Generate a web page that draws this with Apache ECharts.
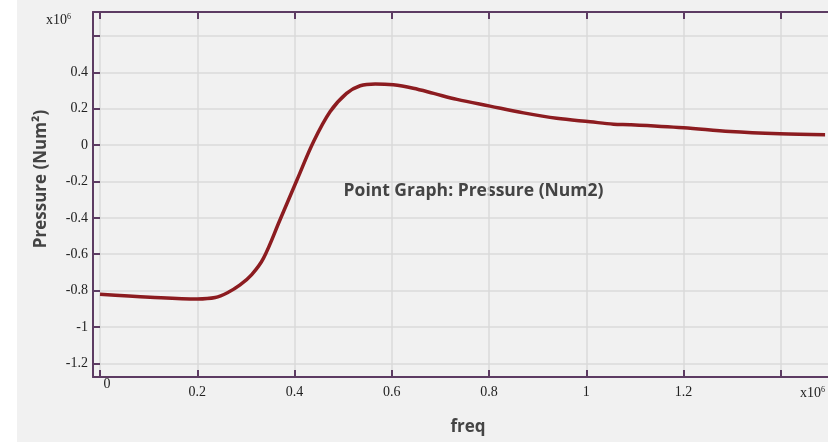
<!DOCTYPE html>
<html>
<head>
<meta charset="utf-8">
<script src="https://cdn.jsdelivr.net/npm/echarts@6/dist/echarts.min.js"></script>
<style>
  html, body { margin: 0; padding: 0; background: #ffffff; }
  #chart { position: absolute; left: 17px; top: 0; width: 811px; height: 442px; background: #f1f1f1; }
</style>
</head>
<body>
<div id="chart"></div>
<script>
// values in units of 1e6
var freq = [0, 0.103, 0.2, 0.237, 0.262, 0.288, 0.312, 0.336, 0.370, 0.405, 0.439, 0.473, 0.507,
  0.535, 0.566, 0.603, 0.644, 0.686, 0.734, 0.802, 0.871, 0.939, 1.008, 1.056, 1.090, 1.200,
  1.296, 1.398, 1.491];
var pressure = [-0.820, -0.836, -0.846, -0.838, -0.812, -0.769, -0.712, -0.623, -0.412, -0.192,
  0.018, 0.183, 0.284, 0.326, 0.336, 0.331, 0.312, 0.284, 0.251, 0.214, 0.177, 0.147, 0.128,
  0.115, 0.112, 0.095, 0.074, 0.062, 0.057];

var xTicks = [0, 0.2, 0.4, 0.6, 0.8, 1, 1.2, 1.4];
var xLabels = [0, 0.2, 0.4, 0.6, 0.8, 1, 1.2];
var yTicks = [-1.2, -1, -0.8, -0.6, -0.4, -0.2, 0, 0.2, 0.4, 0.6];
var yLabels = [-1.2, -1, -0.8, -0.6, -0.4, -0.2, 0, 0.2, 0.4];

var axisColor = '#5d3c63';
var textColor = '#444444';
var serif = '"Liberation Serif", "DejaVu Serif", serif';
var sans = '"Open Sans", "Noto Sans", sans-serif';

var data = [];
for (var i = 0; i < freq.length; i++) data.push([freq[i], pressure[i]]);

var chart = echarts.init(document.getElementById('chart'));
chart.setOption({
  backgroundColor: '#f1f1f1',
  animation: false,
  grid: { left: 76, right: 0, top: 12, bottom: 65 },
  xAxis: [{
    type: 'value',
    min: -0.0144,
    max: 1.497,
    axisLine: { show: true, onZero: false, lineStyle: { color: axisColor, width: 2 } },
    axisTick: { show: true, inside: true, length: 7, customValues: xTicks,
      lineStyle: { color: axisColor, width: 2 } },
    axisLabel: {
      customValues: xLabels,
      margin: 0,
      color: '#222',
      fontFamily: serif,
      fontSize: 14,
      formatter: function (v) { return v === 0 ? '{z|0}' : '{n|' + v + '}'; },
      rich: {
        n: { lineHeight: 30, fontFamily: serif, fontSize: 14, color: '#222' },
        z: { lineHeight: 14, padding: [0, 0, 0, 14], fontFamily: serif, fontSize: 14, color: '#222' }
      }
    },
    splitLine: { show: true, lineStyle: { color: '#dadada', width: 1.5 } }
  }, {
    type: 'value',
    position: 'top',
    min: -0.0144,
    max: 1.497,
    axisLine: { show: true, onZero: false, lineStyle: { color: axisColor, width: 2 } },
    axisTick: { show: true, inside: true, length: 7, customValues: xTicks,
      lineStyle: { color: axisColor, width: 2 } },
    axisLabel: { show: false },
    splitLine: { show: false }
  }],
  yAxis: {
    type: 'value',
    min: -1.275,
    max: 0.7315,
    axisLine: { show: true, onZero: false, lineStyle: { color: axisColor, width: 2 } },
    axisTick: { show: true, inside: true, length: 7, customValues: yTicks,
      lineStyle: { color: axisColor, width: 2 } },
    axisLabel: { customValues: yLabels, margin: 5, color: '#222', fontFamily: serif, fontSize: 14 },
    splitLine: { show: true, lineStyle: { color: '#dadada', width: 1.5 } }
  },
  graphic: [
    { type: 'text', x: 473.5 - 17, y: 191,
      style: { text: 'Point Graph: Pressure (Num2)', font: 'bold 17.5px ' + sans, fill: textColor,
        align: 'center', verticalAlign: 'middle' } },
    { type: 'text', x: 41 - 17, y: 179, rotation: Math.PI / 2,
      style: { text: 'Pressure (Num\u00b2)', font: 'bold 17px ' + sans, fill: textColor,
        align: 'center', verticalAlign: 'middle' } },
    { type: 'text', x: 468 - 17, y: 427,
      style: { text: 'freq', font: 'bold 17px ' + sans, fill: textColor,
        align: 'center', verticalAlign: 'middle' } },
    { type: 'text', x: 46 - 17, y: 12,
      style: { text: '{a|x10}{s|6}', rich: {
        a: { fontFamily: serif, fontSize: 14, fill: '#222', lineHeight: 16 },
        s: { fontFamily: serif, fontSize: 8, fill: '#222', padding: [0, 0, 7, 0], lineHeight: 16 } } } },
    { type: 'text', x: 800 - 17, y: 385,
      style: { text: '{a|x10}{s|6}', rich: {
        a: { fontFamily: serif, fontSize: 14, fill: '#222', lineHeight: 16 },
        s: { fontFamily: serif, fontSize: 8, fill: '#222', padding: [0, 0, 7, 0], lineHeight: 16 } } } }
  ],
  series: [{
    type: 'line',
    xAxisIndex: 0,
    data: data,
    smooth: 0.35,
    showSymbol: false,
    lineStyle: { color: '#8c1c20', width: 3.5 }
  }]
});
</script>
</body>
</html>
